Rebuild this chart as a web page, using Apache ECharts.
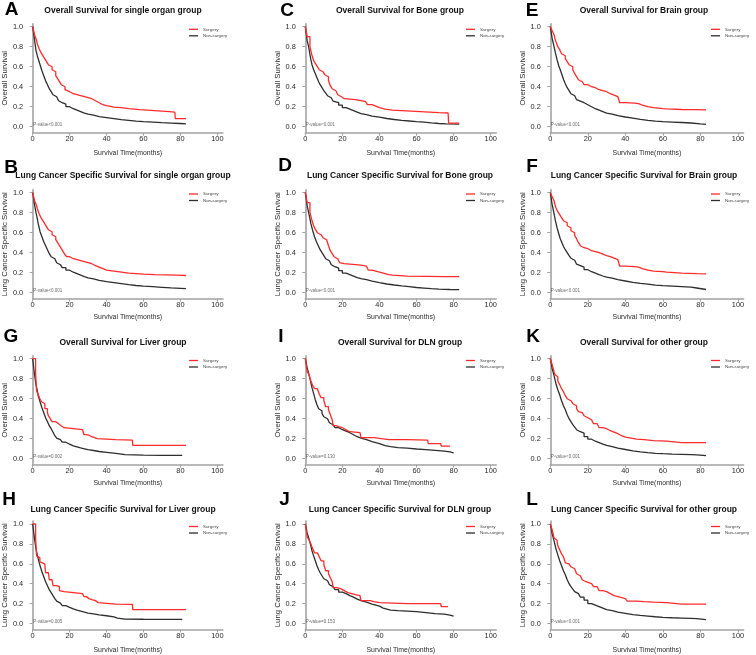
<!DOCTYPE html>
<html><head><meta charset="utf-8">
<script src="https://cdn.jsdelivr.net/npm/echarts@6/dist/echarts.min.js"></script>
<style>html,body{margin:0;padding:0;background:#fff}#c{width:756px;height:655px}</style>
</head><body><div id="c"></div>
<script>
// ---------------- DATA ----------------
const panelIds = ['A','B','C','D','E','F','G','H','I','J','K','L'];
const panelTitles = {
  A:'Overall Survival for single organ group',
  B:'Lung Cancer Specific Survival for single organ group',
  C:'Overall Survival for Bone group',
  D:'Lung Cancer Specific Survival for Bone group',
  E:'Overall Survival for Brain group',
  F:'Lung Cancer Specific Survival for Brain group',
  G:'Overall Survival for Liver group',
  H:'Lung Cancer Specific Survival for Liver group',
  I:'Overall Survival for DLN group',
  J:'Lung Cancer Specific Survival for DLN group',
  K:'Overall Survival for other group',
  L:'Lung Cancer Specific Survival for other group'
};
const yAxisNames = {
  A:'Overall Survival', B:'Lung Cancer Specific Survival',
  C:'Overall Survival', D:'Lung Cancer Specific Survival',
  E:'Overall Survival', F:'Lung Cancer Specific Survival',
  G:'Overall Survival', H:'Lung Cancer Specific Survival',
  I:'Overall Survival', J:'Lung Cancer Specific Survival',
  K:'Overall Survival', L:'Lung Cancer Specific Survival'
};
const pValueTexts = {
  A:'P-value<0.001', B:'P-value<0.001', C:'P-value<0.001', D:'P-value<0.001',
  E:'P-value<0.001', F:'P-value<0.001', G:'P-value=0.002', H:'P-value=0.005',
  I:'P-value=0.130', J:'P-value=0.153', K:'P-value<0.001', L:'P-value<0.001'
};
const xAxisName = 'Survival Time(months)';
const xTickValues = [0,20,40,60,80,100];
const yTickValues = [0,0.2,0.4,0.6,0.8,1.0];
const legendNames = ['Surgery','Non-surgery'];

const A_surgery = [[0,1],[1,0.92],[2,0.87],[2.5,0.83],[3.5,0.78],[4.5,0.74],[5.5,0.71],[6.5,0.68],[7.5,0.65],[8.5,0.62],[9.5,0.6],[10.5,0.57],[11.5,0.55],[12.5,0.51],[13.5,0.48],[14.5,0.45],[15.5,0.42],[16.5,0.4],[17.5,0.37],[18.5,0.35],[20,0.33],[22,0.32],[24,0.31],[26,0.3],[28,0.29],[30,0.28],[32,0.26],[34,0.24],[36,0.22],[38,0.21],[40,0.195],[44,0.19],[48,0.18],[52,0.175],[55,0.17],[58,0.165],[62,0.16],[66,0.155],[70,0.15],[74,0.145],[77,0.14],[77.2,0.08],[83,0.08]];
const A_non = [[0,1],[1,0.87],[1.8,0.76],[2.5,0.71],[3,0.68],[4,0.62],[5,0.56],[6,0.51],[7,0.46],[8,0.42],[9,0.38],[10,0.35],[11,0.32],[12,0.3],[13,0.28],[14,0.26],[15,0.24],[16,0.225],[18,0.2],[20,0.18],[22,0.165],[24,0.15],[26,0.135],[28,0.125],[30,0.115],[33,0.1],[36,0.09],[40,0.08],[44,0.07],[48,0.063],[52,0.055],[56,0.05],[60,0.045],[65,0.04],[70,0.036],[75,0.032],[80,0.028],[83,0.025]];

const B_surgery = [[0,1],[1,0.92],[2,0.88],[2.5,0.84],[3.5,0.79],[4.5,0.75],[5.5,0.72],[6.5,0.69],[7.5,0.66],[8.5,0.63],[9.5,0.61],[10.5,0.58],[11.5,0.56],[12.5,0.53],[13.5,0.5],[14.5,0.47],[15.5,0.44],[16.5,0.41],[17.5,0.38],[18.5,0.36],[20,0.34],[22,0.33],[24,0.32],[26,0.31],[28,0.3],[30,0.29],[32,0.27],[34,0.255],[36,0.24],[38,0.225],[40,0.215],[44,0.205],[48,0.195],[52,0.19],[56,0.185],[60,0.18],[66,0.178],[72,0.175],[78,0.172],[83,0.17]];
const B_non = [[0,1],[1,0.88],[1.8,0.8],[2.5,0.74],[3,0.69],[4,0.61],[5,0.56],[6,0.51],[7,0.47],[8,0.43],[9,0.39],[10,0.36],[11,0.34],[12,0.32],[13,0.3],[14,0.28],[15,0.265],[16,0.25],[18,0.225],[20,0.205],[22,0.19],[24,0.175],[26,0.16],[28,0.148],[30,0.138],[33,0.124],[36,0.11],[40,0.1],[44,0.09],[48,0.08],[52,0.072],[56,0.065],[60,0.06],[65,0.054],[70,0.048],[75,0.044],[80,0.04],[83,0.037]];

const C_surgery = [[0,1],[1,0.9],[2.5,0.8],[3.5,0.72],[4.5,0.66],[5.5,0.63],[6.5,0.6],[7.5,0.57],[8.5,0.55],[9.5,0.53],[10.5,0.52],[11.5,0.5],[12.5,0.46],[13.5,0.41],[14.5,0.38],[15.5,0.36],[16.5,0.34],[17.5,0.32],[18.5,0.3],[19.5,0.28],[21,0.275],[24,0.27],[27,0.26],[30,0.25],[32.5,0.245],[33.5,0.22],[36,0.205],[38,0.19],[40,0.175],[43,0.165],[47,0.16],[52,0.155],[57,0.15],[62,0.145],[67,0.14],[72,0.137],[77,0.135],[77.3,0.035],[83,0.035]];
const C_non = [[0,1],[1,0.86],[1.8,0.8],[2.5,0.72],[3,0.67],[3.6,0.62],[4.5,0.57],[5.4,0.53],[6.3,0.49],[7.2,0.45],[8,0.42],[9,0.39],[10,0.36],[11,0.335],[12,0.31],[13,0.29],[14,0.27],[15,0.255],[16,0.24],[18,0.215],[20,0.19],[22,0.175],[24,0.16],[26,0.145],[28,0.13],[30,0.12],[33,0.105],[36,0.095],[40,0.082],[44,0.072],[48,0.064],[52,0.057],[56,0.05],[60,0.045],[64,0.038],[68,0.032],[72,0.028],[76,0.026],[83,0.024]];

const D_surgery = [[0,1],[1,0.9],[2.5,0.8],[3.5,0.73],[4.5,0.67],[5.5,0.63],[6.5,0.6],[7.5,0.58],[8.5,0.56],[9.5,0.55],[10.5,0.53],[11.5,0.51],[12.5,0.47],[13.5,0.42],[14.5,0.39],[15.5,0.36],[16.5,0.34],[17.5,0.32],[18.5,0.3],[19.5,0.29],[21,0.285],[24,0.28],[27,0.275],[30,0.265],[33,0.255],[34,0.225],[36,0.215],[38,0.205],[40,0.195],[42,0.18],[45,0.175],[47,0.165],[55,0.163],[65,0.16],[75,0.16],[83,0.16]];
const D_non = [[0,1],[1,0.87],[1.8,0.8],[2.5,0.74],[3,0.69],[4,0.62],[5,0.56],[6,0.51],[7,0.47],[8,0.43],[9,0.4],[10,0.37],[11,0.34],[12,0.32],[13,0.3],[14,0.28],[15,0.26],[16,0.245],[18,0.22],[20,0.195],[22,0.18],[24,0.165],[26,0.15],[28,0.14],[30,0.13],[33,0.115],[36,0.1],[40,0.087],[44,0.077],[48,0.068],[52,0.06],[56,0.052],[60,0.046],[64,0.04],[68,0.035],[72,0.032],[78,0.031],[83,0.03]];

const E_surgery = [[0,1],[1,0.96],[2,0.92],[2.5,0.88],[3,0.85],[4,0.8],[5,0.77],[6,0.73],[7,0.71],[8,0.68],[9,0.65],[10,0.62],[11,0.6],[12,0.57],[13,0.53],[14,0.5],[15,0.47],[16,0.45],[17,0.43],[18,0.42],[20,0.4],[22,0.39],[24,0.37],[26,0.36],[28,0.35],[30,0.33],[32,0.315],[34,0.3],[36,0.285],[37,0.24],[40,0.235],[45,0.23],[47,0.215],[49,0.2],[52,0.19],[55,0.18],[60,0.178],[62,0.172],[70,0.17],[78,0.168],[83,0.167]];
const E_non = [[0,1],[1,0.88],[2,0.8],[2.7,0.74],[3.6,0.67],[4.5,0.61],[5.3,0.57],[6.2,0.52],[7.1,0.47],[8,0.43],[9,0.39],[10,0.36],[11,0.33],[12,0.31],[13,0.29],[14,0.27],[15,0.255],[16,0.24],[18,0.22],[20,0.2],[22,0.18],[24,0.165],[26,0.15],[28,0.135],[30,0.125],[33,0.11],[36,0.097],[40,0.085],[44,0.073],[48,0.064],[52,0.056],[56,0.05],[60,0.046],[65,0.042],[70,0.037],[75,0.028],[80,0.023],[83,0.02]];

const F_surgery = [[0,1],[1,0.96],[2,0.92],[2.5,0.88],[3,0.85],[4,0.81],[5,0.78],[6,0.75],[7,0.72],[8,0.7],[9,0.67],[10,0.65],[11,0.62],[12,0.6],[13,0.57],[14,0.54],[15,0.5],[16,0.47],[17,0.45],[18,0.44],[20,0.42],[22,0.41],[24,0.4],[26,0.385],[28,0.37],[30,0.36],[32,0.345],[34,0.33],[36,0.315],[37,0.265],[40,0.26],[45,0.255],[47,0.24],[49,0.225],[52,0.215],[55,0.21],[60,0.205],[62,0.195],[70,0.19],[78,0.188],[83,0.187]];
const F_non = [[0,1],[1,0.88],[2,0.79],[2.7,0.72],[3.6,0.65],[4.5,0.59],[5.3,0.54],[6.2,0.5],[7.1,0.46],[8,0.43],[9,0.4],[10,0.37],[11,0.345],[12,0.325],[13,0.305],[14,0.285],[15,0.27],[16,0.255],[18,0.23],[20,0.21],[22,0.195],[24,0.18],[26,0.167],[28,0.155],[30,0.145],[33,0.13],[36,0.117],[40,0.104],[44,0.094],[48,0.085],[52,0.075],[56,0.07],[60,0.065],[65,0.06],[70,0.055],[75,0.047],[78,0.032],[83,0.03]];

const G_surgery = [[0,1],[1.6,0.85],[2.1,0.68],[3,0.64],[3.9,0.6],[4.8,0.57],[5.7,0.55],[6.6,0.5],[8,0.46],[8.5,0.43],[9.5,0.4],[10.5,0.37],[12.5,0.35],[14,0.33],[15.4,0.31],[17,0.3],[18,0.29],[27,0.285],[27.8,0.24],[29,0.235],[30.5,0.22],[32,0.21],[33,0.2],[35,0.19],[45,0.185],[54,0.183],[54.2,0.133],[83,0.133]];
const G_non = [[0,1],[1,0.84],[1.8,0.74],[2.5,0.68],[3,0.63],[4,0.57],[5,0.51],[6,0.46],[7,0.41],[8,0.37],[9,0.33],[10,0.3],[11,0.265],[12,0.23],[13,0.205],[14,0.19],[15,0.175],[16,0.165],[18,0.145],[20,0.128],[22,0.118],[24,0.108],[26,0.099],[28,0.09],[30,0.082],[33,0.072],[36,0.064],[40,0.055],[44,0.048],[47,0.04],[50,0.035],[60,0.034],[70,0.033],[81,0.033]];

const H_surgery = [[0,1],[1.6,0.85],[2.1,0.68],[3,0.66],[3.9,0.62],[4.8,0.6],[6.5,0.58],[7,0.51],[8.5,0.5],[9,0.44],[10.5,0.42],[11,0.38],[13,0.37],[14.5,0.33],[15.5,0.32],[17,0.31],[18,0.3],[27,0.3],[27.8,0.27],[29,0.25],[30.5,0.24],[32,0.23],[34,0.21],[35.5,0.195],[45,0.193],[54,0.19],[54.2,0.14],[83,0.14]];
const H_non = [[0,1],[1,0.85],[1.8,0.75],[2.5,0.69],[3,0.65],[4,0.58],[5,0.52],[6,0.47],[7,0.42],[8,0.38],[9,0.34],[10,0.31],[11,0.28],[12,0.25],[13,0.225],[14,0.205],[15,0.19],[16,0.18],[18,0.163],[20,0.148],[22,0.135],[24,0.125],[26,0.115],[28,0.105],[30,0.097],[33,0.087],[36,0.078],[40,0.066],[44,0.055],[46,0.045],[50,0.043],[60,0.042],[70,0.041],[81,0.04]];

const I_surgery = [[0,1],[1,0.87],[2,0.84],[3,0.78],[4,0.73],[5,0.7],[6.5,0.68],[7.5,0.65],[8.5,0.61],[10,0.58],[11,0.52],[12.5,0.49],[13.5,0.44],[14.5,0.39],[15,0.33],[16.5,0.32],[18,0.31],[20,0.29],[22,0.27],[24,0.26],[29.5,0.26],[30,0.21],[37,0.19],[45,0.19],[55,0.185],[66,0.18],[66.3,0.15],[73,0.15],[73.3,0.125],[78,0.125]];
const I_non = [[0,1],[1,0.91],[2,0.84],[3,0.76],[3.6,0.71],[4.5,0.65],[5.4,0.59],[6.3,0.54],[7.2,0.5],[8,0.48],[9,0.45],[10,0.42],[11,0.4],[12,0.38],[13,0.36],[14,0.34],[15,0.325],[16,0.31],[18,0.29],[20,0.275],[22,0.26],[24,0.24],[26,0.22],[28,0.205],[30,0.19],[33,0.17],[36,0.15],[40,0.13],[43,0.12],[46,0.11],[50,0.105],[55,0.097],[60,0.09],[65,0.083],[70,0.075],[75,0.068],[78,0.058],[80,0.052]];

const J_surgery = [[0,1],[1,0.87],[2,0.84],[3,0.8],[4,0.75],[5,0.71],[6.5,0.69],[7.5,0.67],[8.5,0.63],[10,0.59],[11,0.53],[12.5,0.5],[13.5,0.46],[14.5,0.42],[15,0.36],[17,0.35],[19,0.33],[21,0.31],[23,0.3],[25,0.29],[27,0.28],[29.5,0.28],[30,0.23],[35,0.22],[37,0.21],[40,0.2],[55,0.2],[73,0.2],[73.3,0.17],[77,0.17]];
const J_non = [[0,1],[1,0.91],[2,0.85],[3,0.78],[3.6,0.73],[4.5,0.68],[5.4,0.63],[6.3,0.58],[7.2,0.54],[8,0.51],[9,0.48],[10,0.45],[11,0.43],[12,0.41],[13,0.39],[14,0.37],[15,0.355],[16,0.34],[18,0.315],[20,0.3],[22,0.28],[24,0.265],[26,0.245],[28,0.23],[30,0.215],[33,0.195],[36,0.175],[40,0.155],[42,0.135],[46,0.13],[50,0.125],[55,0.12],[60,0.11],[65,0.1],[70,0.095],[75,0.085],[78,0.075],[80,0.07]];

const K_surgery = [[0,1],[1,0.94],[2,0.87],[2.5,0.84],[3.5,0.82],[4,0.78],[5,0.74],[6,0.7],[7,0.67],[8,0.63],[9,0.6],[10,0.58],[11,0.57],[12,0.55],[13,0.53],[14,0.5],[15,0.47],[16,0.46],[17,0.45],[18,0.43],[19,0.41],[20,0.39],[22,0.37],[23,0.35],[25,0.33],[26,0.31],[28,0.3],[30,0.28],[32,0.265],[34,0.25],[36,0.23],[38,0.215],[40,0.205],[43,0.195],[46,0.19],[50,0.18],[55,0.175],[62,0.17],[62.5,0.16],[70,0.16],[83,0.158]];
const K_non = [[0,1],[1,0.9],[2,0.83],[3,0.75],[4,0.69],[5,0.64],[6,0.58],[7,0.53],[8,0.49],[9,0.44],[10,0.4],[11,0.37],[12,0.34],[13,0.315],[14,0.29],[15,0.27],[16,0.255],[18,0.22],[20,0.195],[22,0.175],[24,0.16],[26,0.145],[28,0.133],[30,0.12],[33,0.105],[36,0.092],[40,0.078],[44,0.068],[48,0.06],[52,0.054],[56,0.05],[60,0.046],[65,0.043],[70,0.04],[75,0.038],[78,0.036],[79,0.03],[83,0.028]];

const L_surgery = [[0,1],[1,0.94],[2,0.86],[2.5,0.84],[3.5,0.82],[4,0.78],[5,0.74],[6,0.7],[7,0.67],[8,0.61],[9,0.6],[10,0.59],[11,0.57],[12,0.55],[13,0.53],[14,0.5],[15,0.48],[16,0.47],[17,0.44],[18,0.42],[19,0.41],[20,0.4],[22,0.38],[23,0.37],[25,0.35],[26,0.33],[28,0.32],[30,0.3],[32,0.28],[34,0.27],[36,0.26],[38,0.25],[40,0.24],[41,0.225],[46,0.22],[50,0.215],[55,0.21],[62,0.205],[62.5,0.195],[70,0.195],[83,0.195]];
const L_non = [[0,1],[1,0.9],[2,0.83],[3,0.75],[4,0.69],[5,0.63],[6,0.58],[7,0.53],[8,0.49],[9,0.44],[10,0.4],[11,0.37],[12,0.345],[13,0.32],[14,0.3],[15,0.28],[16,0.265],[18,0.235],[20,0.2],[22,0.185],[24,0.17],[26,0.155],[28,0.14],[30,0.13],[33,0.115],[36,0.103],[40,0.09],[44,0.082],[48,0.075],[52,0.068],[56,0.062],[60,0.058],[65,0.055],[70,0.052],[75,0.05],[78,0.048],[79,0.04],[83,0.038]];

const surgeryCurves = {A:A_surgery,B:B_surgery,C:C_surgery,D:D_surgery,E:E_surgery,F:F_surgery,G:G_surgery,H:H_surgery,I:I_surgery,J:J_surgery,K:K_surgery,L:L_surgery};
const nonSurgeryCurves = {A:A_non,B:B_non,C:C_non,D:D_non,E:E_non,F:F_non,G:G_non,H:H_non,I:I_non,J:J_non,K:K_non,L:L_non};

// ---------------- LAYOUT ----------------
const FONT = "'Liberation Sans',Arial,Helvetica,sans-serif";
const panelRC = {A:[0,0],B:[1,0],C:[0,1],D:[1,1],E:[0,2],F:[1,2],G:[2,0],H:[3,0],I:[2,1],J:[3,1],K:[2,2],L:[3,2]};
const colLeft = [29.3,305.3,550.3], colWidth = [193.6,191,193.3];
const rowTop = [23.7,189.7,355.7,521], rowH = [109,109,109,109.7];
const titleY = [11,176,342.7,509.3], titleX = [123,400,644];
const letterPos = {A:[11.5,10],B:[11,168],C:[287,11],D:[285,166],E:[532,11],F:[532,166.5],G:[11,337],H:[9,499.5],I:[281,336.5],J:[284.5,499.5],K:[533,336.5],L:[532,499.5]};
const legendLeft = [189,466,711], legendTop = [26.8,191.5,358,524];
const xNameGap = [16.5,14.8,15.1,17.5];
const RED = '#ff2b2b', DARK = '#2e2e2e', AXIS = '#a3a3a3', TXT = '#2a2a2a';

const grid=[], xAxis=[], yAxis=[], series=[], legend=[], graphic=[];
panelIds.forEach((id,i)=>{
  const [r,c] = panelRC[id];
  grid.push({left:colLeft[c], top:rowTop[r], width:colWidth[c], height:rowH[r], containLabel:false});
  xAxis.push({type:'value', gridIndex:i, min:0, max:103,
    name:xAxisName, nameLocation:'middle', nameGap:xNameGap[r],
    nameTextStyle:{fontSize:6.9, color:TXT, fontFamily:FONT},
    axisLine:{show:true, onZero:false, lineStyle:{color:AXIS, width:1.6}},
    axisTick:{show:true, length:3, lineStyle:{color:AXIS}, customValues:xTickValues},
    axisLabel:{fontSize:7.4, color:TXT, margin:3, fontFamily:FONT, customValues:xTickValues},
    splitLine:{show:false}});
  yAxis.push({type:'value', gridIndex:i, min:-0.06, max:1.03,
    name:yAxisNames[id], nameLocation:'middle', nameGap:20.5, nameRotate:90,
    nameTextStyle:{fontSize:7.8, color:TXT, fontFamily:FONT},
    axisLine:{show:true, onZero:false, lineStyle:{color:AXIS, width:1.6}},
    axisTick:{show:true, length:3, lineStyle:{color:AXIS}, customValues:yTickValues},
    axisLabel:{fontSize:7.4, color:TXT, margin:9.5, fontFamily:FONT, customValues:yTickValues,
      formatter:v=>v.toFixed(1)},
    splitLine:{show:false}});
  series.push({type:'line', name:legendNames[1], xAxisIndex:i, yAxisIndex:i, data:nonSurgeryCurves[id],
    step:'end', symbol:'none', color:DARK, lineStyle:{color:DARK, width:1.3}, z:2});
  series.push({type:'line', name:legendNames[0], xAxisIndex:i, yAxisIndex:i, data:surgeryCurves[id],
    step:'end', symbol:'none', color:RED, lineStyle:{color:RED, width:1.3}, z:3});
  series.push({type:'scatter', xAxisIndex:i, yAxisIndex:i, data:[[0.3,0.015]], symbolSize:0, silent:true,
    label:{show:true, position:'right', distance:0, formatter:pValueTexts[id], fontSize:4.5, color:'#444', fontFamily:FONT}});
  legend.push({data:legendNames, orient:'vertical', left:legendLeft[c], top:legendTop[r], padding:0,
    itemGap:1.5, itemWidth:9, itemHeight:1.3, icon:'rect', selectedMode:false,
    textStyle:{fontSize:4.4, lineHeight:5, color:'#444', fontFamily:FONT}});
  graphic.push({type:'text', x:letterPos[id][0], y:letterPos[id][1],
    style:{text:id, font:'bold 19px '+FONT, fill:'#000', textAlign:'center', textVerticalAlign:'middle'}});
  graphic.push({type:'text', x:titleX[c], y:titleY[r],
    style:{text:panelTitles[id], font:'bold 8.5px '+FONT, fill:'#111', textAlign:'center', textVerticalAlign:'middle'}});
});

const chart = echarts.init(document.getElementById('c'), null, {renderer:'canvas'});
chart.setOption({animation:false, backgroundColor:'#fff', grid, xAxis, yAxis, series, legend, graphic});
</script></body></html>
